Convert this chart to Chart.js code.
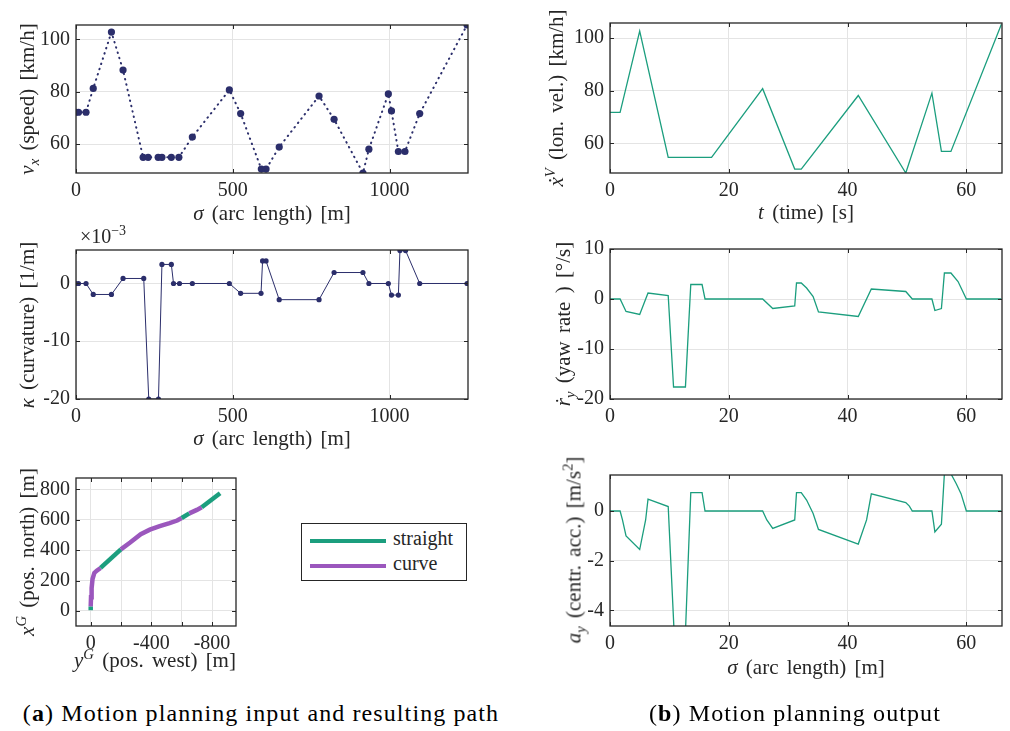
<!DOCTYPE html>
<html>
<head>
<meta charset="utf-8">
<script src="https://cdn.jsdelivr.net/npm/chart.js@4.4.1/dist/chart.umd.min.js"></script>
<style>
  body { margin: 0; background: #fff; }
  #fig { position: relative; width: 1010px; height: 731px; font-family: "Liberation Serif", serif; color: #262626; overflow: hidden; }
  .panel { position: absolute; }
  .lbl { position: absolute; white-space: nowrap; font-size: 21px; word-spacing: 3px; transform: translate(-50%, -50%); }
  .lbl.rot { transform: translate(-50%, -50%) rotate(-90deg); }
  .lbl sub, .lbl sup { font-size: 0.7em; line-height: 0; }
  .cap { position: absolute; font-size: 24px; letter-spacing: 1.1px; white-space: nowrap; transform: translateX(-50%); color: #000; }
  #legend { position: absolute; left: 301px; top: 523px; width: 164px; height: 56px; border: 1px solid #262626; background: #fff; }
  #legend .row { position: absolute; left: 8px; height: 20px; font-size: 20px; }
  #legend .sw { position: absolute; left: 0; top: 8px; width: 76px; height: 4px; }
  #legend .tx { position: absolute; left: 83px; top: -4px; white-space: nowrap; }
</style>
</head>
<body>
<div id="fig">
  <div class="panel" id="p1"></div>
  <div class="panel" id="p2"></div>
  <div class="panel" id="p3"></div>
  <div class="panel" id="p4"></div>
  <div class="panel" id="p5"></div>
  <div class="panel" id="p6"></div>

  <div class="lbl rot" style="left:27px; top:99px"><i>v</i><sub><i>x</i></sub> (speed) [km/h]</div>
  <div class="lbl" style="left:272px; top:213px"><i>σ</i> (arc length) [m]</div>
  <div class="lbl rot" style="left:27px; top:325px"><i>κ</i> (curvature) [1/m]</div>
  <div class="lbl" style="left:272px; top:438px"><i>σ</i> (arc length) [m]</div>
  <div class="lbl" style="left:103px; top:236px; font-size:20px; word-spacing:0">×10<sup>−3</sup></div>
  <div class="lbl rot" style="left:27px; top:552px"><i>x</i><sup><i>G</i></sup> (pos. north) [m]</div>
  <div class="lbl" style="left:155px; top:660px"><i>y</i><sup><i>G</i></sup> (pos. west) [m]</div>

  <div class="lbl rot" style="left:556px; top:98px"><i>x&#775;</i><sup><i>V</i></sup> (lon. vel.) [km/h]</div>
  <div class="lbl" style="left:806px; top:212px"><i>t</i> (time) [s]</div>
  <div class="lbl rot" style="left:563px; top:324px"><i>ṙ</i><sub><i>y</i></sub> (yaw rate ) [°/s]</div>
  <div class="lbl rot" style="left:574px; top:550px"><i>a</i><sub><i>y</i></sub> (centr. acc.) [m/s<sup>2</sup>]</div>
  <div class="lbl" style="left:806px; top:667px"><i>σ</i> (arc length) [m]</div>

  <div id="legend"></div>

  <div class="cap" style="left:261px; top:700px">(<b>a</b>) Motion planning input and resulting path</div>
  <div class="cap" style="left:795px; top:700px">(<b>b</b>) Motion planning output</div>
</div>

<script>
// ---- data ----

// (a) top: speed waypoints
const sigmaSpeed = [0, 8, 32, 55, 113, 150, 214, 230, 262, 274, 304, 328, 371, 489, 525, 591, 606, 648, 775, 823, 915, 934, 996, 1006, 1028, 1049, 1096, 1247];
const speedKmh = [72.2, 72.2, 72.2, 81.3, 102.8, 88.3, 55, 55, 55, 55, 55, 55, 62.7, 80.7, 71.7, 50.5, 50.5, 58.9, 78.4, 69.5, 49.0, 58.1, 79.2, 72.7, 57.2, 57.2, 71.7, 105.5];

// (a) middle: curvature waypoints, in 1e-3 1/m
const sigmaKappa = [0, 8, 32, 55, 113, 150, 216, 232, 263, 274, 304, 311, 330, 371, 489, 525, 590, 595, 606, 648, 775, 823, 915, 934, 996, 1006, 1028, 1033, 1051, 1096, 1247];
const kappaMilli = [0, 0, 0, -1.9, -1.9, 0.87, 0.87, -20, -20, 3.3, 3.3, 0, 0, 0, 0, -1.7, -1.7, 3.9, 3.9, -2.8, -2.8, 1.9, 1.9, 0, 0, -2.0, -2.0, 5.7, 5.7, 0, 0];

// (a) bottom: resulting path, segment i runs from point i to point i+1
const pathWest  = [0, 0, -2, -6, -12, -24, -40, -65, -199, -260, -330, -390, -455, -520, -570, -600, -650, -700, -732, -853];
const pathNorth = [5, 30, 90, 150, 210, 250, 265, 283, 405, 450, 505, 535, 558, 578, 595, 612, 642, 665, 683, 775];
const pathSegType = ['straight', 'curve', 'curve', 'curve', 'curve', 'curve', 'curve', 'straight', 'curve', 'curve', 'curve', 'curve', 'curve', 'curve', 'curve', 'straight', 'curve', 'curve', 'straight'];
const pathLegend = ['straight', 'curve'];

// (b) top: longitudinal velocity over time
const tVel = [0, 1.7, 5.0, 9.8, 17.1, 25.7, 31.1, 32.2, 41.8, 49.8, 54.2, 55.8, 57.4, 65.9];
const velKmh = [71.8, 71.8, 102.6, 54.7, 54.7, 80.8, 50.3, 50.3, 78.2, 48.8, 79.1, 57.0, 57.0, 105.2];

// (b) middle: yaw rate
const tYaw = [0, 1.7, 2.7, 5.0, 6.4, 9.8, 10.7, 12.7, 13.6, 15.5, 16.0, 25.7, 27.4, 31.1, 31.4, 32.2, 33.1, 34.2, 35.1, 41.8, 44.0, 49.8, 50.9, 54.2, 54.7, 55.8, 56.3, 57.4, 58.6, 59.4, 60.0, 65.9];
const yawRate = [0, 0, -2.5, -3.1, 1.2, 0.7, -17.6, -17.6, 2.9, 2.9, 0, 0, -1.9, -1.4, 3.2, 3.2, 2.2, 0.5, -2.6, -3.5, 2.0, 1.5, 0, 0, -2.3, -1.9, 5.2, 5.2, 3.5, 1.5, 0, 0];

// (b) bottom: centripetal acceleration
const tAcc = [0, 1.7, 2.1, 2.7, 5.0, 6.0, 6.4, 9.8, 10.8, 12.7, 13.6, 15.5, 16.0, 25.7, 26.4, 27.4, 31.1, 31.4, 32.2, 33.1, 34.2, 35.1, 41.8, 43.2, 44.0, 49.8, 50.4, 50.9, 54.2, 54.7, 55.8, 56.3, 57.4, 58.3, 59.1, 60.0, 65.9];
const accLat = [0, 0, -0.36, -1.0, -1.55, -0.36, 0.48, 0.18, -4.9, -4.9, 0.74, 0.74, 0, 0, -0.36, -0.7, -0.36, 0.74, 0.74, 0.44, -0.1, -0.74, -1.33, -0.36, 0.69, 0.34, 0.2, 0, 0, -0.84, -0.53, 1.5, 1.5, 1.1, 0.7, 0, 0];

// tick values
const sigmaTicks = [0, 500, 1000];
const speedTicks = [60, 80, 100];
const kappaTicks = [-20, -10, 0];
const westTicks = [0, -200, -400, -600, -800];
const northTicks = [0, 200, 400, 600, 800];
const timeTicks = [0, 20, 40, 60];
const yawTicks = [-20, -10, 0, 10];
const accTicks = [-4, -2, 0];

// ---- styling / helpers ----
const NAVY = '#2b2e6b';
const TEAL = '#1b9e7e';
const PURPLE = '#9b57bd';
const INK = '#262626';
const PAD = { l: 60, t: 22, r: 14, b: 32 };

const xy = (xs, ys) => xs.map((x, i) => ({ x: x, y: ys[i] }));

// MATLAB style box with inward tick marks
const boxPlugin = {
    id: 'box',
    afterDatasetsDraw(chart) {
        const { ctx, chartArea: a, scales } = chart;
        ctx.save();
        ctx.strokeStyle = INK;
        ctx.lineWidth = 1;
        ctx.beginPath();
        scales.x.ticks.forEach(t => {
            const px = Math.round(scales.x.getPixelForValue(t.value)) + 0.5;
            ctx.moveTo(px, a.bottom); ctx.lineTo(px, a.bottom - 4);
            ctx.moveTo(px, a.top); ctx.lineTo(px, a.top + 4);
        });
        scales.y.ticks.forEach(t => {
            const py = Math.round(scales.y.getPixelForValue(t.value)) + 0.5;
            ctx.moveTo(a.left, py); ctx.lineTo(a.left + 4, py);
            ctx.moveTo(a.right, py); ctx.lineTo(a.right - 4, py);
        });
        ctx.stroke();
        ctx.lineWidth = 1.3;
        ctx.strokeRect(a.left, a.top, a.right - a.left, a.bottom - a.top);
        ctx.restore();
    }
};

function scale(min, max, ticks, opts) {
    opts = opts || {};
    return {
        type: 'linear',
        min: min,
        max: max,
        reverse: !!opts.reverse,
        afterBuildTicks: s => { s.ticks = ticks.map(v => ({ value: v })); },
        afterFit: s => { if (s.isHorizontal()) s.height = PAD.b; else s.width = PAD.l; },
        grid: { color: '#e4e4e4', lineWidth: 1, drawTicks: false },
        border: { display: false },
        ticks: {
            font: { family: 'Liberation Serif', size: 20 },
            color: INK,
            padding: opts.pad || 6,
            autoSkip: false,
            maxRotation: 0,
            callback: opts.fmt || (v => String(v))
        }
    };
}

function panel(id, box, datasets, xScale, yScale) {
    const wrap = document.getElementById(id);
    const cv = document.createElement('canvas');
    cv.width = box.R - box.L + PAD.l + PAD.r;
    cv.height = box.B - box.T + PAD.t + PAD.b;
    wrap.style.left = (box.L - PAD.l) + 'px';
    wrap.style.top = (box.T - PAD.t) + 'px';
    wrap.appendChild(cv);
    return new Chart(cv, {
        type: 'line',
        data: { datasets: datasets },
        options: {
            responsive: false,
            animation: false,
            layout: { padding: { left: 0, top: PAD.t, right: PAD.r, bottom: 0 } },
            plugins: { legend: { display: false }, tooltip: { enabled: false } },
            scales: { x: xScale, y: yScale }
        },
        plugins: [boxPlugin]
    });
}

// ---- (a) speed ----
panel('p1', { L: 76, R: 468, T: 25, B: 173 }, [{
    data: xy(sigmaSpeed, speedKmh),
    borderColor: NAVY, borderWidth: 2, borderDash: [0.5, 5], borderCapStyle: 'round',
    pointRadius: 3.6, pointBackgroundColor: NAVY, pointBorderWidth: 0
}], scale(0, 1250, sigmaTicks), scale(49, 105.5, speedTicks));

// ---- (a) curvature ----
panel('p2', { L: 76, R: 468, T: 250, B: 399 }, [{
    data: xy(sigmaKappa, kappaMilli),
    borderColor: NAVY, borderWidth: 1,
    pointRadius: 2.6, pointBackgroundColor: NAVY, pointBorderWidth: 0
}], scale(0, 1250, sigmaTicks), scale(-20, 5.8, kappaTicks));

// ---- (a) path ----
const segColor = ctx => pathSegType[ctx.p0DataIndex] === 'curve' ? PURPLE : TEAL;
panel('p3', { L: 76, R: 236, T: 478, B: 626 }, [{
    data: xy(pathWest, pathNorth),
    borderColor: TEAL, borderWidth: 4.5, pointRadius: 0,
    segment: { borderColor: segColor }
}], scale(-958, 97, westTicks, { reverse: true, fmt: v => (v % 400 === 0 ? String(v) : '') }),
    scale(-99, 875, northTicks));

// legend for the path
const legendEl = document.getElementById('legend');
pathLegend.forEach((name, i) => {
    const row = document.createElement('div');
    row.className = 'row';
    row.style.top = (7 + i * 25) + 'px';
    row.innerHTML = '<div class="sw" style="background:' + (name === 'curve' ? PURPLE : TEAL) + '"></div><div class="tx">' + name + '</div>';
    legendEl.appendChild(row);
});

// ---- (b) velocity ----
panel('p4', { L: 610, R: 1002, T: 23, B: 173 }, [{
    data: xy(tVel, velKmh),
    borderColor: TEAL, borderWidth: 1.3, pointRadius: 0
}], scale(0, 66, timeTicks), scale(48.8, 105.7, speedTicks));

// ---- (b) yaw rate ----
panel('p5', { L: 610, R: 1002, T: 249, B: 399 }, [{
    data: xy(tYaw, yawRate),
    borderColor: TEAL, borderWidth: 1.3, pointRadius: 0
}], scale(0, 66, timeTicks), scale(-20, 10, yawTicks));

// ---- (b) centripetal acceleration ----
panel('p6', { L: 610, R: 1002, T: 475, B: 626 }, [{
    data: xy(tAcc, accLat),
    borderColor: TEAL, borderWidth: 1.3, pointRadius: 0
}], scale(0, 66, timeTicks), scale(-4.63, 1.45, accTicks));
</script>
</body>
</html>
